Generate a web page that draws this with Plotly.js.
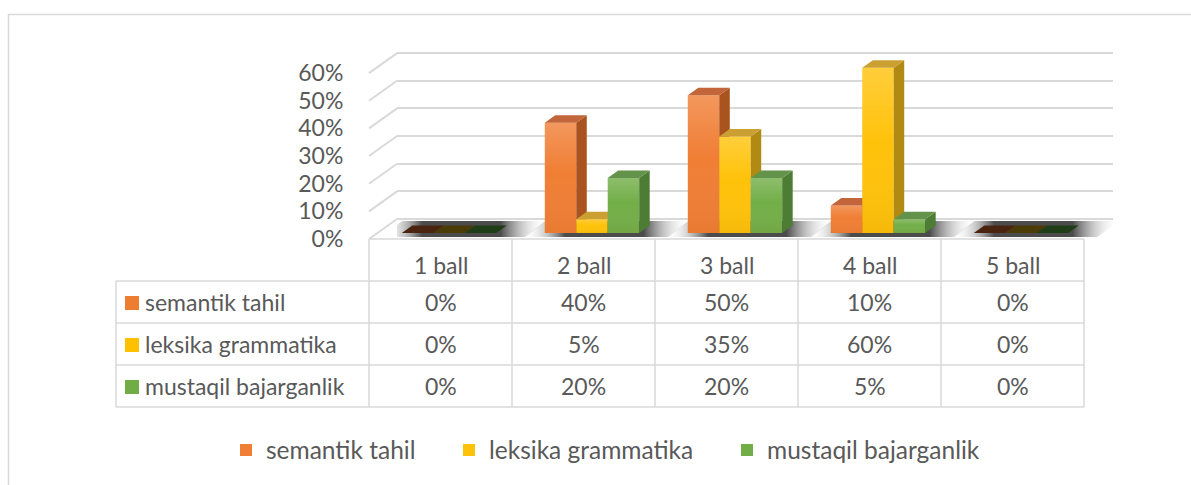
<!DOCTYPE html>
<html><head><meta charset="utf-8">
<script src="https://cdn.plot.ly/plotly-3.0.1.min.js"></script>
<style>html,body{margin:0;padding:0;background:#fff}#chart{width:1191px;height:485px}</style>
</head><body><div id="chart"></div>
<script>
// ---------- data ----------
const categories = ['1 ball', '2 ball', '3 ball', '4 ball', '5 ball'];
const seriesNames = ['semantik tahil', 'leksika grammatika', 'mustaqil bajarganlik'];
const semantikTahil = [0, 0.40, 0.50, 0.10, 0];
const leksikaGrammatika = [0, 0.05, 0.35, 0.60, 0];
const mustaqilBajarganlik = [0, 0.20, 0.20, 0.05, 0];
const yTicks = [0, 0.1, 0.2, 0.3, 0.4, 0.5, 0.6];

const seriesValues = [semantikTahil, leksikaGrammatika, mustaqilBajarganlik];

// ---------- styles / geometry ----------
const W = 1191, H = 485;
const fx = p => p / W, fy = p => (H - p) / H;
const styles = [
  {front: '#F07E35', side: '#A9531F', top: '#C2653A', zero: '#4B2410', key: '#ED7D31'},
  {front: '#FFC20A', side: '#B08A12', top: '#CBA033', zero: '#4A3B07', key: '#FFC000'},
  {front: '#72AE48', side: '#4D7D34', top: '#63934A', zero: '#1F3E18', key: '#70AD47'}
];
const FONT = 'Lato, "Open Sans", sans-serif';
const TXT = '#595959';
const GRID = '#D9D9D9';
const FS = 23;

const wall = {x0: 397, x1: 1113, yBottom: 239, yTop: 50, yZero: 219, y60: 53};
const catPx = 143, cat0Px = 449;
const xr = [(wall.x0 - cat0Px) / catPx, (wall.x0 - cat0Px) / catPx + (wall.x1 - wall.x0) / catPx];
const domH = wall.yBottom - wall.yTop;
const wallPx = (wall.yZero - wall.y60) / 0.6;
const yBase = [-(wall.yBottom - wall.yZero) / wallPx, -(wall.yBottom - wall.yZero) / wallPx + domH / wallPx];
const barPx = 275.5, barBase = 233;
const yBar = [-(wall.yBottom - barBase) / barPx, -(wall.yBottom - barBase) / barPx + domH / barPx];
const labPx = 276.5;
const yLab = [0, domH / labPx];
const barW = 0.22, dX = 10.5 / catPx, dY = 7.5 / barPx;

const pct = v => Math.round(v * 100) + '%';

// ---------- traces ----------
const traces = [];
// floor shadows (base subplot, under bars)
categories.forEach((c, i) => {
  const yf = -(237 - wall.yZero) / wallPx, yb = -(221 - wall.yZero) / wallPx;
  const slant = 22 / catPx;
  const L = i - 1.5 * barW - 0.15, R = i + 1.5 * barW + dX + 0.13;
  traces.push({
    type: 'scatter', xaxis: 'x', yaxis: 'y', mode: 'none', fill: 'toself',
    x: [L, R, R + slant, L + slant, L], y: [yf, yf, yb, yb, yf],
    fillcolor: 'rgba(70,70,70,0.6)',
    fillgradient: {type: 'horizontal', colorscale: [[0, 'rgba(255,255,255,0)'], [0.25, 'rgba(60,60,60,0.92)'], [0.72, 'rgba(60,60,60,0.92)'], [1, 'rgba(255,255,255,0)']]},
    hoverinfo: 'skip', showlegend: false
  });
});
// invisible trace for label axis
traces.push({type: 'scatter', x: [0], y: [0], xaxis: 'x', yaxis: 'y5', mode: 'markers', marker: {opacity: 0}, hoverinfo: 'skip', showlegend: false});

seriesValues.forEach((vals, s) => {
  const xa = 'x' + (s + 2), ya = 'y' + (s + 2);
  const off = (s - 1.5) * barW;
  const st = styles[s];
  traces.push({
    type: 'bar', name: seriesNames[s], x: categories.map((c, i) => i), y: vals,
    width: barW, offset: off, xaxis: xa, yaxis: ya,
    marker: {color: st.front, line: {width: 0}},
    legend: s === 0 ? 'legend' : 'legend' + (s + 1),
    hoverinfo: 'skip'
  });
  const sx = [], sy = [], tx = [], ty = [], zx = [], zy = [];
  vals.forEach((v, i) => {
    const xl = i + off, xrr = xl + barW;
    if (v > 0) {
      sx.push(xrr, xrr + dX, xrr + dX, xrr, xrr, null);
      sy.push(0, dY, v + dY, v, 0, null);
      tx.push(xl, xl + dX, xrr + dX, xrr, xl, null);
      ty.push(v, v + dY, v + dY, v, v, null);
      // soft vertical shading of the front face
      traces.push({type: 'scatter', x: [xl, xrr, xrr, xl, xl], y: [0, 0, v, v, 0], xaxis: xa, yaxis: ya,
        mode: 'none', fill: 'toself', fillcolor: 'rgba(255,255,255,0)',
        fillgradient: {type: 'vertical', colorscale: [[0, 'rgba(120,60,0,0.07)'], [0.55, 'rgba(255,255,255,0)'], [1, 'rgba(255,255,255,0.2)']]},
        hoverinfo: 'skip', showlegend: false});
    } else {
      zx.push(xl, xl + dX, xrr + dX, xrr, xl, null);
      zy.push(v, v + dY, v + dY, v, v, null);
    }
  });
  [[sx, sy, st.side], [tx, ty, st.top], [zx, zy, st.zero]].forEach(([px, py, col]) => {
    if (!px.length) return;
    traces.push({type: 'scatter', x: px, y: py, xaxis: xa, yaxis: ya, mode: 'none', fill: 'toself',
      fillcolor: col, hoverinfo: 'skip', showlegend: false});
  });
});

// ---------- shapes ----------
const shapes = [];
// outer frame
shapes.push({type: 'path', xref: 'paper', yref: 'paper',
  path: `M ${fx(8.5)} ${fy(490)} L ${fx(8.5)} ${fy(14.5)} L ${fx(1200)} ${fy(14.5)}`,
  line: {color: GRID, width: 1.5}});
// slanted side-wall lines
yTicks.forEach(v => {
  shapes.push({type: 'line', xref: 'paper', yref: 'y5', ysizemode: 'pixel', yanchor: v,
    x0: fx(369), x1: fx(wall.x0), y0: 0, y1: wall.yBottom - wall.yZero,
    line: {color: GRID, width: 2}});
});
// data table grid
const tab = {left: 116, colLeft: 369, colW: 143, top: 239, rowH: 42};
const nCols = categories.length, nRows = seriesNames.length;
const tRight = tab.colLeft + nCols * tab.colW;
const tBottom = tab.top + (nRows + 1) * tab.rowH;
const tl = (x0, y0, x1, y1) => shapes.push({type: 'line', xref: 'paper', yref: 'paper',
  x0: fx(x0), y0: fy(y0), x1: fx(x1), y1: fy(y1), line: {color: GRID, width: 1.5}});
tl(tab.colLeft, tab.top, tRight, tab.top);
for (let r = 1; r <= nRows + 1; r++) tl(tab.left, tab.top + r * tab.rowH, tRight, tab.top + r * tab.rowH);
tl(tab.left, tab.top + tab.rowH, tab.left, tBottom);
for (let c = 0; c <= nCols; c++) tl(tab.colLeft + c * tab.colW, tab.top, tab.colLeft + c * tab.colW, tBottom);

// ---------- annotations ----------
const annotations = [];
const tf = {family: FONT, size: FS, color: TXT};
categories.forEach((c, j) => {
  annotations.push({xref: 'paper', yref: 'paper', x: fx(tab.colLeft + (j + 0.5) * tab.colW), y: fy(tab.top + tab.rowH / 2 + 5),
    text: c, showarrow: false, xanchor: 'center', yanchor: 'middle', font: tf});
});
seriesNames.forEach((nm, r) => {
  const cy = tab.top + (r + 1.5) * tab.rowH;
  shapes.push({type: 'rect', xref: 'paper', yref: 'paper', x0: fx(125), x1: fx(139), y0: fy(cy - 6), y1: fy(cy + 8),
    fillcolor: styles[r].key, line: {width: 0}});
  annotations.push({xref: 'paper', yref: 'paper', x: fx(143), y: fy(cy), text: nm, showarrow: false,
    xanchor: 'left', yanchor: 'middle', font: tf});
  seriesValues[r].forEach((v, j) => {
    annotations.push({xref: 'paper', yref: 'paper', x: fx(tab.colLeft + (j + 0.5) * tab.colW), y: fy(cy),
      text: pct(v), showarrow: false, xanchor: 'center', yanchor: 'middle', font: tf});
  });
});

// ---------- layout ----------
const hidden = {visible: false, fixedrange: true};
const legendPos = [266, 489, 767];
const lf = {family: FONT, size: 24.5, color: TXT};
const mkLegend = i => ({x: fx(legendPos[i] - 40), y: fy(450), xanchor: 'left', yanchor: 'middle',
  orientation: 'h', bgcolor: 'rgba(0,0,0,0)', font: lf, itemclick: false, itemdoubleclick: false});

const layout = {
  width: W, height: H, margin: {l: 0, r: 0, t: 0, b: 0, pad: 0}, autosize: false,
  paper_bgcolor: '#fff', plot_bgcolor: 'rgba(0,0,0,0)', hovermode: false,
  font: {family: FONT, color: TXT},
  xaxis: Object.assign({domain: [fx(wall.x0), fx(wall.x1)], range: xr}, hidden),
  yaxis: {domain: [fy(wall.yBottom), fy(wall.yTop)], range: yBase, tickvals: yTicks, showticklabels: false,
    ticks: '', showgrid: true, gridcolor: GRID, gridwidth: 2, zeroline: false, showline: false, fixedrange: true},
  xaxis2: Object.assign({overlaying: 'x', range: xr}, hidden),
  yaxis2: Object.assign({overlaying: 'y', range: yBar}, hidden),
  xaxis3: Object.assign({overlaying: 'x', range: xr}, hidden),
  yaxis3: Object.assign({overlaying: 'y', range: yBar}, hidden),
  xaxis4: Object.assign({overlaying: 'x', range: xr}, hidden),
  yaxis4: Object.assign({overlaying: 'y', range: yBar}, hidden),
  yaxis5: {overlaying: 'y', anchor: 'free', position: fx(369), side: 'left', range: yLab, tickvals: yTicks,
    tickformat: '.0%', ticks: 'outside', ticklen: 21, tickcolor: 'rgba(0,0,0,0)', showgrid: false,
    zeroline: false, showline: false, tickfont: tf, fixedrange: true},
  legend: mkLegend(0), legend2: mkLegend(1), legend3: mkLegend(2),
  shapes: shapes, annotations: annotations
};

Plotly.newPlot('chart', traces, layout, {displayModeBar: false, staticPlot: true});
</script>
</body></html>
